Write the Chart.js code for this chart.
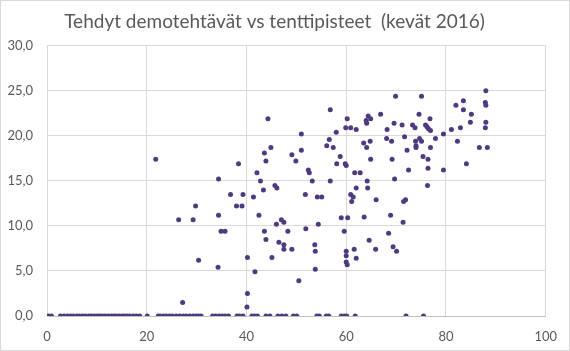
<!DOCTYPE html>
<html>
<head>
<meta charset="utf-8">
<script src="https://cdn.jsdelivr.net/npm/chart.js@4.4.0/dist/chart.umd.min.js"></script>
<style>
  html, body { margin: 0; padding: 0; background: #fff; }
  #wrap { width: 570px; height: 351px; position: relative; }
</style>
</head>
<body>
<div id="wrap"><canvas id="scatterChart" width="570" height="351"></canvas></div>
<script>
// students with 0 exam points (x = demo tasks done, %)
const zeroX = [0.3, 0.9, 2.7, 3.4, 4.1, 4.7, 5.3, 6.0, 6.5, 7.1, 7.7, 8.4, 8.9, 9.5, 10.1, 10.6,
  11.1, 11.7, 12.3, 12.9, 13.4, 13.9, 14.5, 15.1, 15.6, 16.1, 16.6, 17.3, 17.9, 18.6, 20.1,
  22.3, 22.7, 23.4, 23.9, 24.6, 25.1, 25.9, 26.6, 27.3, 27.9, 28.6, 29.3, 29.9, 30.4, 30.9,
  33.2, 33.8, 34.5, 35.1, 35.7, 36.4, 38.1, 38.6, 39.3, 41.1, 41.6, 42.2, 43.9, 44.7, 46.3,
  47.1, 47.9, 49.4, 50.1, 54.1, 54.6, 56.0, 56.5, 59.0, 59.6, 60.1, 61.8, 72.0, 75.5];

// students with exam points
const demoX = [21.8, 26.4, 29.3, 29.8, 30.4, 34.4, 34.4, 34.3, 27.2, 34.9, 35.7, 38.4, 36.8, 39.3,
  38.0, 39.1, 40.2, 40.2, 40.1, 41.7, 41.4, 42.5, 42.1, 42.8, 43.4, 43.6, 43.9, 44.9, 44.3, 43.6,
  43.9, 45.1, 45.7, 46.1, 46.0, 47.0, 47.5, 46.5, 47.5, 47.5, 48.3, 49.1, 49.1, 51.0, 49.9, 50.5,
  51.0, 51.8, 51.9, 52.4, 52.6, 53.2, 53.7, 53.8, 53.8, 54.2, 55.1, 54.4, 56.1, 57.4, 56.6, 56.8,
  58.1, 58.8, 59.0, 59.6, 59.8, 60.0, 60.0, 60.0, 60.0, 60.2, 60.3, 56.8, 58.0, 60.2, 59.9, 60.9,
  62.0, 61.7, 62.8, 62.0, 60.9, 61.4, 61.1, 61.6, 62.0, 63.6, 64.6, 65.9, 66.0, 64.2, 64.3, 63.5,
  64.1, 64.8, 64.9, 64.0, 64.1, 64.4, 64.9, 66.9, 68.2, 68.1, 69.1, 69.6, 69.9, 69.2, 69.7, 68.9,
  68.5, 69.4, 70.1, 71.4, 71.5, 71.9, 71.2, 71.7, 72.2, 72.5, 74.6, 75.1, 73.3, 73.8, 73.9, 74.0,
  74.0, 74.7, 75.1, 75.9, 76.2, 76.5, 76.9, 76.8, 77.9, 76.9, 75.4, 76.4, 76.4, 76.3, 79.5, 81.1,
  82.0, 83.5, 83.5, 85.1, 82.9, 84.9, 82.3, 88.0, 87.9, 88.0, 88.0, 87.9, 86.7, 88.3, 84.1, 79.5];
const examY = [17.4, 10.7, 10.7, 12.2, 6.2, 15.2, 11.2, 5.4, 1.5, 9.4, 9.4, 16.9, 13.5, 13.5,
  12.2, 12.2, 6.5, 2.5, 1.0, 4.9, 13.2, 11.2, 15.9, 15.0, 14.0, 18.1, 17.2, 18.7, 21.9, 9.4,
  8.5, 6.5, 14.5, 14.2, 10.2, 10.7, 10.4, 8.2, 7.9, 7.4, 9.4, 7.4, 17.9, 18.4, 17.2, 3.9,
  20.2, 13.5, 9.7, 16.2, 15.9, 15.0, 7.9, 7.2, 5.2, 13.2, 13.2, 10.2, 18.9, 18.7, 19.6, 15.0,
  16.9, 17.7, 10.9, 9.4, 16.9, 16.7, 7.2, 6.7, 6.0, 5.7, 10.9, 22.9, 20.4, 21.9, 20.9, 20.9,
  20.7, 15.9, 15.9, 14.2, 13.5, 13.2, 12.7, 7.4, 6.4, 11.0, 8.4, 7.4, 12.9, 15.0, 14.2, 19.2,
  18.7, 19.4, 17.4, 21.7, 21.4, 22.2, 21.9, 22.4, 20.7, 19.7, 19.4, 21.4, 24.4, 17.4, 15.2, 11.2,
  9.2, 7.7, 7.2, 10.4, 12.7, 12.9, 21.2, 19.9, 18.4, 16.2, 22.4, 24.4, 21.2, 20.9, 19.4, 18.9,
  18.7, 19.7, 19.4, 21.2, 21.0, 20.8, 20.6, 21.9, 19.7, 18.7, 17.7, 17.4, 16.4, 14.5, 20.2, 20.7,
  23.4, 23.9, 22.9, 22.4, 20.9, 21.5, 19.4, 25.0, 23.7, 23.4, 21.5, 20.9, 18.7, 18.7, 16.9, 16.2];

const xTicks = [0, 20, 40, 60, 80, 100];
const yTicks = [0, 5, 10, 15, 20, 25, 30];

const points = zeroX.map(x => ({ x: x, y: 0 }))
  .concat(demoX.map((x, i) => ({ x: x, y: examY[i] })));

// thin grey frame round the whole chart
const framePlugin = {
  id: 'frame',
  afterDraw(chart) {
    const c = chart.ctx;
    c.save();
    c.strokeStyle = '#d9d9d9';
    c.lineWidth = 1;
    c.strokeRect(0.5, 0.5, chart.width - 1, chart.height - 1);
    c.restore();
  }
};

const labelFont = { family: 'Lato', size: 13 };

new Chart(document.getElementById('scatterChart'), {
  type: 'scatter',
  data: {
    datasets: [{
      data: points,
      backgroundColor: '#4e3a7e',
      borderColor: '#4e3a7e',
      pointRadius: 2.5,
      pointBorderWidth: 0
    }]
  },
  options: {
    responsive: false,
    animation: false,
    layout: { padding: { left: 0, right: 21, top: 0, bottom: 0 } },
    plugins: {
      legend: { display: false },
      tooltip: { enabled: false },
      title: {
        display: true,
        text: 'Tehdyt demotehtävät vs tenttipisteet  (kevät 2016)',
        color: '#595959',
        font: { family: 'Lato', size: 19, weight: 'normal' },
        padding: { top: 10, bottom: 13 }
      }
    },
    scales: {
      x: {
        type: 'linear',
        min: 0,
        max: 100,
        afterFit(scale) { scale.height = 35; },
        afterBuildTicks(scale) { scale.ticks = xTicks.map(v => ({ value: v })); },
        grid: { color: '#d9d9d9', drawTicks: false },
        border: { color: '#bfbfbf' },
        ticks: { color: '#595959', font: labelFont, padding: 13, maxRotation: 0 }
      },
      y: {
        type: 'linear',
        min: 0,
        max: 30,
        afterFit(scale) { scale.width = 47; },
        afterBuildTicks(scale) { scale.ticks = yTicks.map(v => ({ value: v })); },
        grid: { color: '#d9d9d9', drawTicks: false },
        border: { color: '#d9d9d9' },
        ticks: {
          color: '#595959',
          font: labelFont,
          padding: 14,
          callback: v => v.toFixed(1).replace('.', ',')
        }
      }
    }
  },
  plugins: [framePlugin]
});
</script>
</body>
</html>
